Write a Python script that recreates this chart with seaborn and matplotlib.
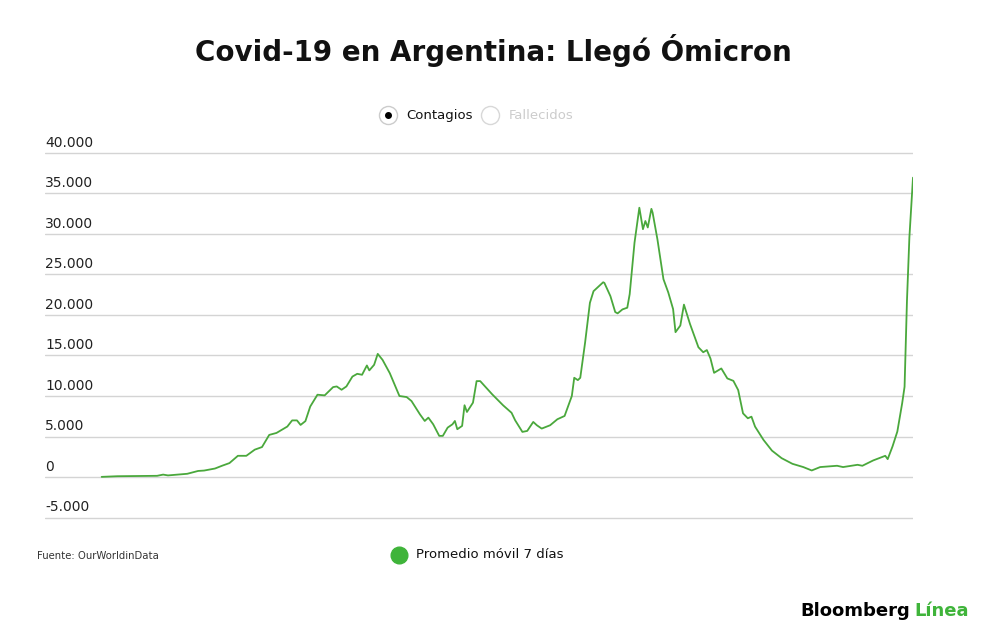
import pandas as pd
import seaborn as sns
import matplotlib.pyplot as plt
import matplotlib.transforms as mtransforms
from matplotlib.lines import Line2D

# casos diarios, promedio movil 7 dias
inicio = pd.Timestamp('2020-03-03')
dias = [0, 13, 46, 51, 55, 71, 80, 85, 94, 100, 106, 113, 120, 127, 133, 139, 145, 154, 158, 162,
        165, 169, 173, 179, 185, 192, 195, 199, 203, 208, 212, 216, 220, 222, 226, 229, 233, 239,
        247, 253, 257, 264, 268, 271, 275, 280, 283, 287, 291, 293, 295, 299, 301, 303, 308, 311,
        314, 324, 333, 340, 343, 349, 353, 358, 361, 365, 372, 378, 384, 390, 392, 395, 397, 401,
        405, 408, 411, 416, 417, 422, 426, 428, 432, 436, 438, 442, 446, 449, 451, 453, 456, 457,
        461, 466, 470, 474, 476, 480, 483, 488, 492, 495, 499, 502, 505, 508, 514, 519, 524, 528,
        532, 536, 539, 542, 549, 556, 564, 573, 582, 589, 596, 610, 615, 627, 631, 640, 650, 652,
        656, 660, 664, 666, 668, 670, 673]
casos = [20, 100, 150, 300, 200, 400, 750, 800, 1050, 1400, 1720, 2620, 2620, 3380, 3700, 5200,
         5440, 6230, 6990, 6990, 6430, 6900, 8700, 10160, 10080, 11100, 11180, 10770, 11180, 12400,
         12740, 12620, 13770, 13160, 13850, 15200, 14460, 12820, 10000, 9870, 9380, 7740, 6920,
         7330, 6510, 5080, 5080, 6100, 6510, 6920, 5900, 6310, 8860, 8030, 9180, 11840, 11840,
         10200, 8850, 7930, 7000, 5570, 5690, 6800, 6390, 5980, 6390, 7130, 7540, 10000, 12250,
         11960, 12250, 16590, 21500, 22940, 23350, 24040, 23960, 22330, 20360, 20200, 20690, 20900,
         22580, 28930, 33240, 30590, 31600, 30800, 33100, 32640, 29340, 24420, 22780, 20730, 17880,
         18700, 21280, 18900, 17250, 16020, 15400, 15670, 14630, 12860, 13400, 12170, 11870, 10730,
         7860, 7250, 7450, 6220, 4580, 3260, 2330, 1630, 1230, 810, 1230, 1390, 1230, 1510, 1390,
         2050, 2620, 2210, 3770, 5610, 9090, 11140, 21790, 29570, 36950]

y_ticks = [-5000, 0, 5000, 10000, 15000, 20000, 25000, 30000, 35000, 40000]
y_labels = ['-5.000', '0', '5.000', '10.000', '15.000', '20.000', '25.000', '30.000', '35.000', '40.000']

df = pd.DataFrame({'fecha': inicio + pd.to_timedelta(dias, unit='D'), 'casos': casos})

sns.set_style('white')
plt.rcParams['font.family'] = ['DejaVu Sans']

verde = '#4aa83c'
fig = plt.figure(figsize=(10, 6.39), dpi=100)
ax = fig.add_axes([0.045, 0.1706, 0.868, 0.6103])

sns.lineplot(data=df, x='fecha', y='casos', color=verde, linewidth=1.3, ax=ax)

ax.set_xlim(inicio - pd.Timedelta(days=47), df['fecha'].iloc[-1])
ax.set_ylim(-6536, 41597)
for v in y_ticks:
    ax.axhline(v, color='#d4d4d4', linewidth=1, zorder=0)

# etiquetas del eje y encima de cada linea de grilla
trans = mtransforms.blended_transform_factory(ax.transAxes, ax.transData)
for v, lab in zip(y_ticks, y_labels):
    ax.annotate(lab, xy=(0, v), xycoords=trans, xytext=(0, 2.2), textcoords='offset points',
                ha='left', va='bottom', fontsize=10, color='#222222')

ax.set_xticks([])
ax.set_yticks([])
ax.set_xlabel('')
ax.set_ylabel('')
sns.despine(ax=ax, left=True, bottom=True)

# titulo
fig.text(0.493, 0.921, 'Covid-19 en Argentina: Llegó Ómicron', ha='center', va='center',
         fontsize=20, fontweight='heavy', color='#111111')

# leyenda superior
y_leg = 1 - 115 / 639
fig.add_artist(Line2D([0.388], [y_leg], marker='o', markersize=13, markerfacecolor='white',
                      markeredgecolor='#cccccc', markeredgewidth=1, transform=fig.transFigure))
fig.add_artist(Line2D([0.388], [y_leg], marker='o', markersize=4, color='black',
                      transform=fig.transFigure))
fig.text(0.406, y_leg - 0.0015, 'Contagios', ha='left', va='center', fontsize=9.5, color='#111111')
fig.add_artist(Line2D([0.490], [y_leg], marker='o', markersize=13, markerfacecolor='white',
                      markeredgecolor='#d8d8d8', markeredgewidth=1, transform=fig.transFigure))
fig.text(0.509, y_leg - 0.0015, 'Fallecidos', ha='left', va='center', fontsize=9.5, color='#cccccc')

# leyenda inferior y fuente
fig.text(0.037, 1 - 556 / 639, 'Fuente: OurWorldinData', ha='left', va='center', fontsize=7.3,
         color='#333333')
fig.add_artist(Line2D([0.399], [1 - 555 / 639], marker='o', markersize=12, color='#3fb43a',
                      transform=fig.transFigure))
fig.text(0.416, 1 - 555 / 639, 'Promedio móvil 7 días', ha='left', va='center', fontsize=9.5,
         color='#111111')

# logo
marca = fig.text(0.800, 1 - 611 / 639, 'Bloomberg', ha='left', va='center', fontsize=13,
                 fontweight='bold', color='black')
ax.annotate('Línea', xy=(1, 0.5), xycoords=marca, xytext=(3, 0), textcoords='offset points',
            ha='left', va='center', fontsize=13, fontweight='bold', color='#3fb43a',
            annotation_clip=False)

fig.savefig('out.png', dpi=100, facecolor='white')
